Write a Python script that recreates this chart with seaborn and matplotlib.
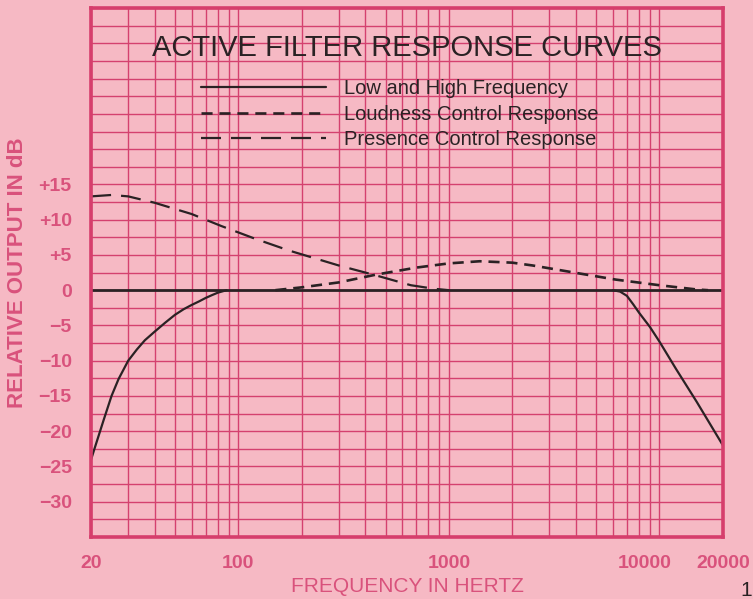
import matplotlib
matplotlib.use("Agg")
import matplotlib.pyplot as plt
import matplotlib.transforms as mtrans
import seaborn as sns
import pandas as pd
from matplotlib.lines import Line2D

# curve readings (Hz, dB)
flat_freq = [20, 20000]
flat_db = [0, 0]

low_freq = [20, 21, 23, 25, 27, 30, 33, 36, 40, 45, 50, 55, 60, 65, 70, 75, 80, 88]
low_db = [-24, -22, -18.3, -15, -12.6, -10, -8.4, -7.1, -5.9, -4.6, -3.5, -2.7, -2.1, -1.6, -1.1, -0.7, -0.35, 0]

high_freq = [6000, 6500, 7000, 7500, 8000, 9000, 10000, 12000, 15000, 20000]
high_db = [0, -0.2, -0.8, -2.0, -3.2, -5.2, -7.3, -11.2, -15.8, -22]

loud_freq = [150, 200, 300, 450, 700, 1000, 1400, 2000, 2500, 3000, 4300, 6200, 10000, 15000, 17000]
loud_db = [0, 0.4, 1.1, 2.2, 3.2, 3.8, 4.1, 3.9, 3.5, 3.1, 2.3, 1.5, 0.7, 0.1, 0]

pres_freq = [20, 25, 30, 40, 60, 83, 120, 175, 300, 450, 660, 850, 1000]
pres_db = [13.3, 13.5, 13.3, 12.4, 10.8, 9.1, 7.3, 5.6, 3.5, 2.1, 0.7, 0.2, 0]

x_ticks = [20, 100, 1000, 10000, 20000]
x_ticklabels = ["20", "100", "1000", "10000", "20000"]
y_ticks = [15, 10, 5, 0, -5, -10, -15, -20, -25, -30]
y_ticklabels = ["+15", "+10", "+5", "0", "\u22125", "\u221210", "\u221215", "\u221220", "\u221225", "\u221230"]

legend_labels = ["Low and High Frequency", "Loudness Control Response", "Presence Control Response"]

paper = "#f6b9c4"
grid_col = "#d4416f"
text_pink = "#d9527c"
ink = "#2a2224"

sns.set_theme(style="white")
plt.rcParams["font.family"] = ["Liberation Sans", "DejaVu Sans"]

fig = plt.figure(figsize=(7.53, 5.99), dpi=100, facecolor=paper)
ax = fig.add_axes([0.121, 0.1035, 0.839, 0.883])
ax.set_facecolor(paper)

short_dash = (4.2, 2.6)
long_dash = (9, 4.5)

sns.lineplot(data=pd.DataFrame({"f": flat_freq, "db": flat_db}), x="f", y="db",
             ax=ax, color=ink, lw=2.0)
sns.lineplot(data=pd.DataFrame({"f": low_freq, "db": low_db}), x="f", y="db",
             ax=ax, color=ink, lw=1.6)
sns.lineplot(data=pd.DataFrame({"f": high_freq, "db": high_db}), x="f", y="db",
             ax=ax, color=ink, lw=1.6)
sns.lineplot(data=pd.DataFrame({"f": loud_freq, "db": loud_db}), x="f", y="db",
             ax=ax, color=ink, lw=1.9)
ax.lines[-1].set_dashes(short_dash)
sns.lineplot(data=pd.DataFrame({"f": pres_freq, "db": pres_db}), x="f", y="db",
             ax=ax, color=ink, lw=1.6)
ax.lines[-1].set_dashes(long_dash)

ax.set_xscale("log")
ax.set_xlim(20, 20000)
ax.set_ylim(-35, 40)

# log paper grid
minor_x = [m * d for d in (10, 100, 1000) for m in range(2, 10)] + [10000 * 1.0]
minor_x = [v for v in minor_x if 20 < v < 20000 and v not in x_ticks]
ax.set_xticks(x_ticks)
ax.set_xticks(minor_x, minor=True)
ax.set_xticklabels(x_ticklabels)
ax.xaxis.set_minor_formatter(plt.NullFormatter())

minor_y = [v / 2 for v in range(-70, 81, 5) if v / 2 not in y_ticks]
ax.set_yticks(y_ticks)
ax.set_yticks(minor_y, minor=True)
ax.set_yticklabels(y_ticklabels)

ax.grid(True, which="both", color=grid_col, lw=1.0)
ax.set_axisbelow(True)
ax.tick_params(which="both", length=0)
ax.tick_params(axis="x", pad=13, labelsize=14, labelcolor=text_pink)
ax.tick_params(axis="y", pad=14, labelsize=14, labelcolor=text_pink)
for lab in ax.get_xticklabels() + ax.get_yticklabels():
    lab.set_fontweight("bold")

# the 10000 label sits a little left of its line on the original sheet
lab10k = ax.get_xticklabels()[3]
lab10k.set_transform(lab10k.get_transform() +
                     mtrans.ScaledTranslation(-0.15, 0, fig.dpi_scale_trans))

for s in ax.spines.values():
    s.set_color("#d63e6c")
    s.set_linewidth(2.6)

ax.set_xlabel("FREQUENCY IN HERTZ", fontsize=15, color=text_pink)
ax.set_ylabel("RELATIVE OUTPUT IN dB", fontsize=16, color=text_pink, fontweight="bold")
ax.xaxis.set_label_coords(0.5, -0.076)
ax.yaxis.set_label_coords(-0.1, 0.5)

ax.set_title("ACTIVE FILTER RESPONSE CURVES", fontsize=21, color=ink, y=0.893)

handles = [
    Line2D([], [], color=ink, lw=1.6),
    Line2D([], [], color=ink, lw=1.9, dashes=short_dash),
    Line2D([], [], color=ink, lw=1.6, dashes=long_dash),
]
ax.legend(handles, legend_labels, loc="upper left", bbox_to_anchor=(0.145, 0.9),
          frameon=False, fontsize=14.5, handlelength=6.2, handletextpad=0.9,
          labelspacing=0.33, labelcolor=ink)

fig.text(752 / 753, 1 - 590 / 599, "1", fontsize=15, color=ink, ha="right", va="center")

fig.savefig("out.png", dpi=100, facecolor=paper)
